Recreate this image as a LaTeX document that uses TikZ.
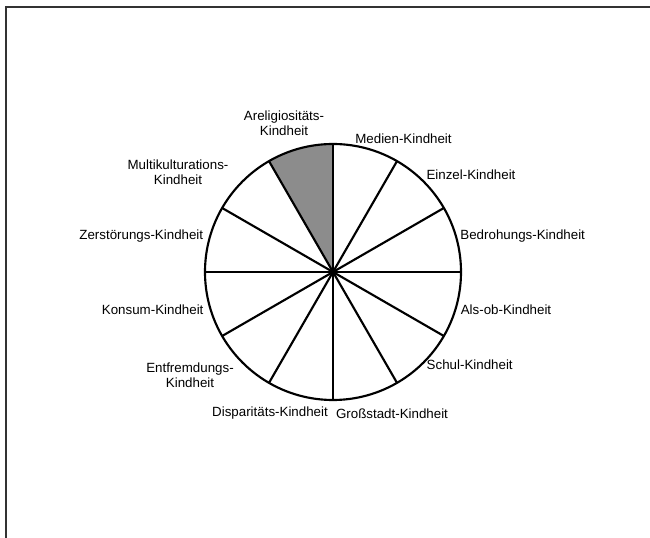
\documentclass[tikz,border=0pt]{standalone}
\usepackage{fontspec}
\setmainfont{Liberation Sans}
\usetikzlibrary{positioning}

\begin{document}
\begin{tikzpicture}[x=0.75pt,y=0.75pt,font=\fontsize{10}{11.5}\selectfont,
  spoke/.style={line width=1.6pt, draw=black},
  frame/.style={line width=1.3pt, draw=black!80},
  label/.style={inner sep=0pt, align=center}]

\useasboundingbox (0,0) rectangle (650,538);
\draw[frame] (6,0) |- (650,531);

\coordinate (c) at (333,266);
\foreach \a in {0,30,...,330}
	\coordinate (p\a) at ([shift={(c)}]\a:128);

% shaded sector
\fill[black!45] (c) -- (p90) arc[start angle=90, end angle=120, radius=128] -- cycle;

\draw[spoke] (c) circle[radius=128];
\foreach \a in {0,30,...,330}
	\draw[spoke] (c) -- (p\a);

\node[label] (areli)  at (284,415)   {Areligiositäts-\\Kindheit};
\node[label] (medien) at (403.5,399.7) {Medien-Kindheit};
\node[label] (einzel) at (471,363)   {Einzel-Kindheit};
\node[label] (bedroh) at (522.7,302.3) {Bedrohungs-Kindheit};
\node[label] (alsob)  at (506,228.7) {Als-ob-Kindheit};
\node[label] (schul)  at (469.7,173) {Schul-Kindheit};
\node[label] (gross)  at (392,124.7) {Großstadt-Kindheit};
\node[label] (dispar) at (270,125)   {Disparitäts-Kindheit};
\node[label] (entfr)  at (190,163)   {Entfremdungs-\\Kindheit};
\node[label] (konsum) at (152.7,228.7) {Konsum-Kindheit};
\node[label] (zerst)  at (141.3,302.3) {Zerstörungs-Kindheit};
\node[label] (multi)  at (178,366)   {Multikulturations-\\Kindheit};

\end{tikzpicture}
\end{document}
